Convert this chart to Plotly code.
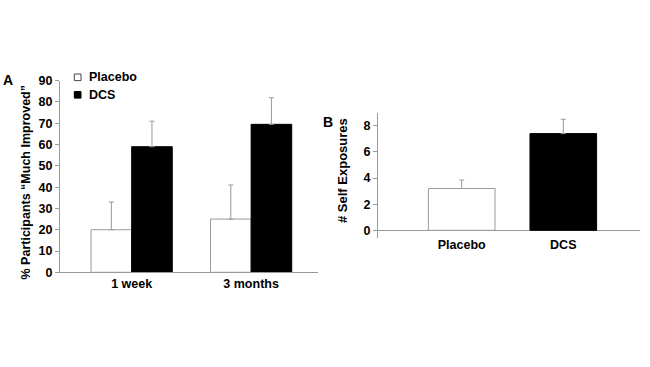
import plotly.graph_objects as go

# Panel A data
timepoints = ["1 week", "3 months"]
placebo_pct = [20, 25]
placebo_pct_err = [13, 16]
dcs_pct = [59, 69.5]
dcs_pct_err = [12, 12.5]
a_ticks = [0, 10, 20, 30, 40, 50, 60, 70, 80, 90]

# Panel B data
groups = ["Placebo", "DCS"]
self_exposures = [3.2, 7.4]
self_exposures_err = [0.65, 1.1]
b_ticks = [0, 2, 4, 6, 8]

legend_names = ["Placebo", "DCS"]
legend_fills = ["white", "black"]

FONT = "Liberation Sans, Arial, Helvetica, sans-serif"
GRAY = "#9a9a9a"
W, H = 650, 367


def px(x):
    return x / W


def py(y):
    return 1 - y / H


fig = go.Figure()

err_style = dict(type="data", symmetric=False, color=GRAY, thickness=1, width=2.5)

fig.add_trace(go.Bar(
    x=timepoints, y=placebo_pct, name="Placebo", showlegend=False,
    marker=dict(color="white", line=dict(color=GRAY, width=1)),
    width=0.34, offset=-0.34,
    error_y=dict(array=placebo_pct_err, arrayminus=[0] * len(placebo_pct), **err_style),
    xaxis="x", yaxis="y",
))
fig.add_trace(go.Bar(
    x=timepoints, y=dcs_pct, name="DCS", showlegend=False,
    marker=dict(color="black", line=dict(color="black", width=1)),
    width=0.34, offset=0,
    error_y=dict(array=dcs_pct_err, arrayminus=[0] * len(dcs_pct), **err_style),
    xaxis="x", yaxis="y",
))

fig.add_trace(go.Bar(
    x=groups, y=self_exposures, showlegend=False,
    marker=dict(color=["white", "black"], line=dict(color=[GRAY, "black"], width=1)),
    width=0.656,
    error_y=dict(array=self_exposures_err, arrayminus=[0] * len(self_exposures), **err_style),
    xaxis="x2", yaxis="y2",
))

tickfont = dict(family=FONT, size=12.5, color="black", weight="bold")

annotations = [
    dict(text="A", x=px(7.5), y=py(80), xref="paper", yref="paper", showarrow=False,
         xanchor="center", yanchor="middle",
         font=dict(family=FONT, size=14, color="black", weight="bold")),
    dict(text="B", x=px(327.5), y=py(122), xref="paper", yref="paper", showarrow=False,
         xanchor="center", yanchor="middle",
         font=dict(family=FONT, size=14, color="black", weight="bold")),
    dict(text="% Participants \u201cMuch Improved\u201d", textangle=-90,
         x=px(25), y=py(182.5), xref="paper", yref="paper", showarrow=False,
         xanchor="center", yanchor="middle",
         font=dict(family=FONT, size=12.5, color="black", weight="bold")),
    dict(text="# Self Exposures", textangle=-90,
         x=px(342), y=py(171), xref="paper", yref="paper", showarrow=False,
         xanchor="center", yanchor="middle",
         font=dict(family=FONT, size=13, color="black", weight="bold")),
]
shapes = []
# legend (manual, to match compact swatch spacing)
for i, (name, fill) in enumerate(zip(legend_names, legend_fills)):
    yc = 77.3 + i * 17.5
    shapes.append(dict(type="rect", xref="paper", yref="paper",
                       x0=px(74.3), x1=px(81), y0=py(yc - 3.3), y1=py(yc + 3.3),
                       fillcolor=fill, line=dict(color="#444" if fill == "white" else "black", width=1)))
    annotations.append(dict(text=name, x=px(87), y=py(yc), xref="paper", yref="paper",
                            showarrow=False, xanchor="left", yanchor="middle",
                            font=dict(family=FONT, size=12.5, color="black", weight="bold")))

fig.update_layout(
    template="none",
    width=W, height=H,
    margin=dict(l=0, r=0, t=0, b=0, pad=0, autoexpand=False),
    paper_bgcolor="white", plot_bgcolor="white",
    barmode="overlay",
    font=dict(family=FONT, color="black"),
    showlegend=False,
    xaxis=dict(domain=[px(60), px(318)], range=[-0.6, 1.56], type="category",
               showline=True, linecolor=GRAY, linewidth=1, ticks="",
               showgrid=False, zeroline=False, tickfont=tickfont, anchor="y",
               automargin=False),
    yaxis=dict(domain=[py(272.3), py(80.7)], range=[0, 90], tickvals=a_ticks,
               showline=True, linecolor=GRAY, linewidth=1, ticks="outside",
               ticklen=4, tickcolor=GRAY, showgrid=False, zeroline=False,
               tickfont=tickfont, anchor="x", automargin=False),
    xaxis2=dict(domain=[px(378), px(640)], range=[-0.824, 1.755], type="category",
                showline=False, ticks="", showgrid=False, zeroline=False,
                tickfont=tickfont, anchor="y2", automargin=False, ticklabelstandoff=-2),
    yaxis2=dict(domain=[py(237.5), py(112.7)], range=[-0.55, 9], tickvals=b_ticks,
                showline=True, linecolor=GRAY, linewidth=1, ticks="outside",
                ticklen=4, tickcolor=GRAY, showgrid=False,
                zeroline=True, zerolinecolor=GRAY, zerolinewidth=1,
                tickfont=tickfont, anchor="x2", automargin=False),
    annotations=annotations,
    shapes=shapes,
)

fig.write_html("out.html", config={"displayModeBar": False},
               post_script="document.body.style.margin='0';")
